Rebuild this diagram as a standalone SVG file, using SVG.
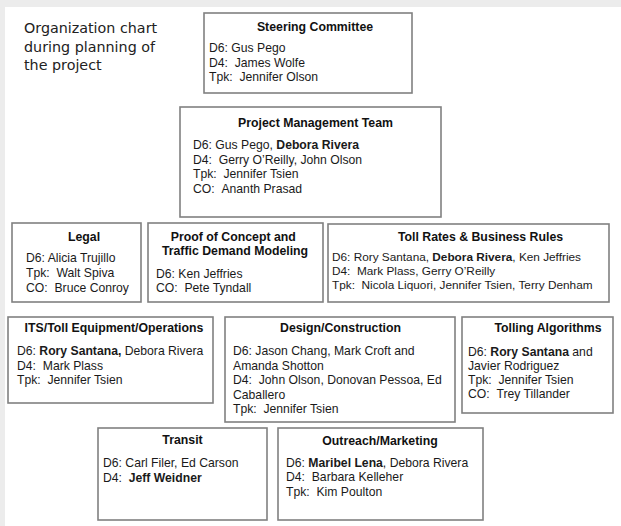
<svg xmlns="http://www.w3.org/2000/svg" width="621" height="526" viewBox="0 0 621 526">
  <style>
    .box { fill: #ffffff; stroke: #808080; stroke-width: 1.6; }
    .title { font-family: "Liberation Sans", Arial, sans-serif; font-size: 12.3px; font-weight: bold; fill: #111; text-anchor: middle; }
    .body { font-family: "Liberation Sans", Arial, sans-serif; font-size: 12.2px; fill: #1a1a1a; }
    .small { font-size: 11.8px; }
    .strong { font-weight: bold; }
    .caption { font-family: "DejaVu Sans", Verdana, sans-serif; font-size: 14.3px; fill: #222; }
  </style>

  <!-- page background -->
  <rect x="0" y="0" width="621" height="526" fill="#ececec"/>
  <rect x="5" y="7" width="616" height="519" fill="#ffffff"/>

  <text class="caption">
    <tspan x="24" y="33">Organization chart</tspan>
    <tspan x="24" y="51.5">during planning of</tspan>
    <tspan x="24" y="70">the project</tspan>
  </text>

  <g id="connectors"/>

  <g id="steering-committee">
    <rect class="box" x="204" y="13" width="208" height="80"/>
    <text class="title" x="315" y="31">Steering Committee</text>
    <text class="body">
      <tspan x="209" y="52">D6: Gus Pego</tspan>
      <tspan x="209" y="66.5">D4: &#160;James Wolfe</tspan>
      <tspan x="209" y="81">Tpk: &#160;Jennifer Olson</tspan>
    </text>
  </g>

  <g id="project-management-team">
    <rect class="box" x="180" y="107" width="261" height="110"/>
    <text class="title" x="315.5" y="127">Project Management Team</text>
    <text class="body">
      <tspan x="193" y="149">D6: Gus Pego, <tspan class="strong">Debora Rivera</tspan></tspan>
      <tspan x="193" y="163.5">D4: &#160;Gerry O’Reilly, John Olson</tspan>
      <tspan x="193" y="178">Tpk: &#160;Jennifer Tsien</tspan>
      <tspan x="193" y="192.5">CO: &#160;Ananth Prasad</tspan>
    </text>
  </g>

  <g id="legal">
    <rect class="box" x="12" y="223" width="129" height="79"/>
    <text class="title" x="84" y="241">Legal</text>
    <text class="body">
      <tspan x="26" y="262">D6: Alicia Trujillo</tspan>
      <tspan x="26" y="277">Tpk: &#160;Walt Spiva</tspan>
      <tspan x="26" y="291.5">CO: &#160;Bruce Conroy</tspan>
    </text>
  </g>

  <g id="proof-of-concept">
    <rect class="box" x="148" y="223" width="175" height="79"/>
    <text class="title">
      <tspan x="235" y="241">Proof of Concept and</tspan>
      <tspan x="235" y="255">Traffic Demand Modeling</tspan>
    </text>
    <text class="body">
      <tspan x="156" y="278">D6: Ken Jeffries</tspan>
      <tspan x="156" y="292">CO: &#160;Pete Tyndall</tspan>
    </text>
  </g>

  <g id="toll-rates">
    <rect class="box" x="328" y="224" width="281" height="78"/>
    <text class="title" x="480.5" y="241">Toll Rates &amp; Business Rules</text>
    <text class="body small">
      <tspan x="332" y="261">D6: Rory Santana, <tspan class="strong">Debora Rivera</tspan>, Ken Jeffries</tspan>
      <tspan x="332" y="275">D4: &#160;Mark Plass, Gerry O’Reilly</tspan>
      <tspan x="332" y="289">Tpk: &#160;Nicola Liquori, Jennifer Tsien, Terry Denham</tspan>
    </text>
  </g>

  <g id="its-toll-equipment">
    <rect class="box" x="8" y="317" width="205" height="86"/>
    <text class="title" x="114" y="332">ITS/Toll Equipment/Operations</text>
    <text class="body">
      <tspan x="17" y="355">D6: <tspan class="strong">Rory Santana,</tspan> Debora Rivera</tspan>
      <tspan x="17" y="369.5">D4: &#160;Mark Plass</tspan>
      <tspan x="17" y="384">Tpk: &#160;Jennifer Tsien</tspan>
    </text>
  </g>

  <g id="design-construction">
    <rect class="box" x="225" y="317" width="230" height="105"/>
    <text class="title" x="340.5" y="332">Design/Construction</text>
    <text class="body">
      <tspan x="233" y="355">D6: Jason Chang, Mark Croft and</tspan>
      <tspan x="233" y="369.5">Amanda Shotton</tspan>
      <tspan x="233" y="384">D4: &#160;John Olson, Donovan Pessoa, Ed</tspan>
      <tspan x="233" y="398.5">Caballero</tspan>
      <tspan x="233" y="413">Tpk: &#160;Jennifer Tsien</tspan>
    </text>
  </g>

  <g id="tolling-algorithms">
    <rect class="box" x="462" y="317" width="151" height="96"/>
    <text class="title" x="548" y="332">Tolling Algorithms</text>
    <text class="body">
      <tspan x="468" y="355.5">D6: <tspan class="strong">Rory Santana</tspan> and</tspan>
      <tspan x="468" y="370">Javier Rodriguez</tspan>
      <tspan x="468" y="384">Tpk: &#160;Jennifer Tsien</tspan>
      <tspan x="468" y="398">CO: &#160;Trey Tillander</tspan>
    </text>
  </g>

  <g id="transit">
    <rect class="box" x="98" y="428" width="169" height="92"/>
    <text class="title" x="182.5" y="444">Transit</text>
    <text class="body">
      <tspan x="103" y="467">D6: Carl Filer, Ed Carson</tspan>
      <tspan x="103" y="481.5">D4: &#160;<tspan class="strong">Jeff Weidner</tspan></tspan>
    </text>
  </g>

  <g id="outreach-marketing">
    <rect class="box" x="278" y="428" width="205" height="92"/>
    <text class="title" x="380" y="444.5">Outreach/Marketing</text>
    <text class="body">
      <tspan x="286" y="466.5">D6: <tspan class="strong">Maribel Lena</tspan>, Debora Rivera</tspan>
      <tspan x="286" y="481">D4: &#160;Barbara Kelleher</tspan>
      <tspan x="286" y="495.5">Tpk: &#160;Kim Poulton</tspan>
    </text>
  </g>
</svg>
